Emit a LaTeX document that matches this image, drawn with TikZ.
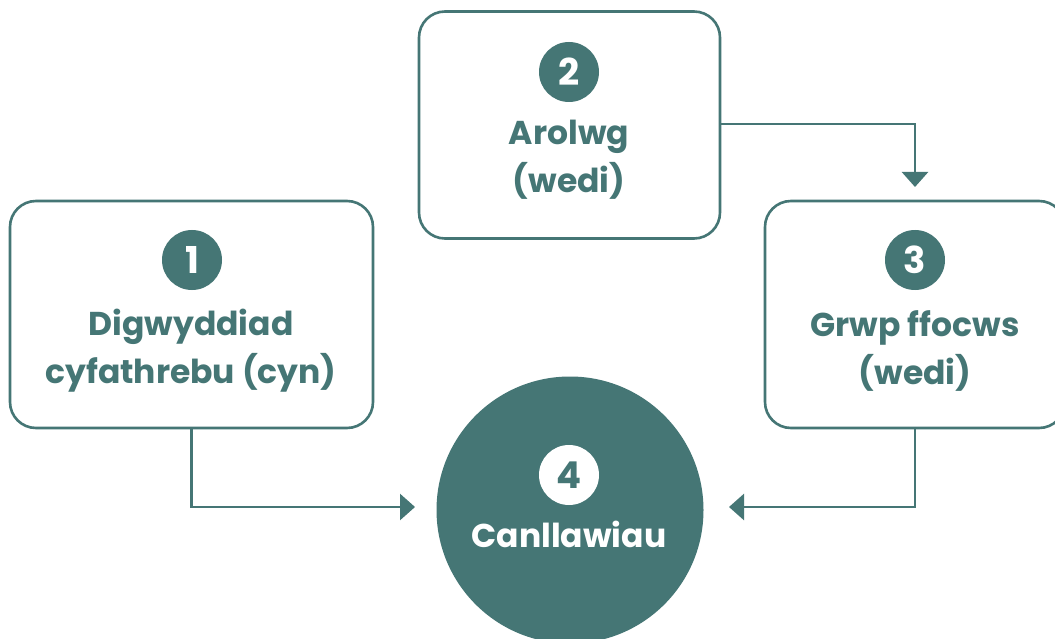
\documentclass[tikz,border=0pt]{standalone}
\usepackage{fontspec}
\setmainfont{Poppins}
\usetikzlibrary{arrows.meta}
\definecolor{tealc}{RGB}{69,118,117}
\begin{document}
\begin{tikzpicture}[x=1pt,y=-1pt,
  box/.style={draw=tealc, line width=2.6pt, rounded corners=26pt, fill=white, minimum width=300pt, minimum height=227pt, inner sep=0pt},
  num/.style={circle, fill=tealc, text=white, minimum size=60pt, inner sep=0pt, font=\fontsize{37}{37}\selectfont\bfseries},
  lbl/.style={text=tealc, font=\fontsize{33}{48}\selectfont\bfseries, align=center, inner sep=0pt},
  conn/.style={draw=tealc, line width=2.6pt, -{Triangle[length=15pt,width=26pt]}}]
\useasboundingbox (0,0) rectangle (1055,639);
\clip (0,0) rectangle (1055,639);
\fill[white] (0,0) rectangle (1055,639);
% boxes
\node[box, minimum width=363pt] (b1) at (191.5,314.5) {};
\node[box, minimum width=301pt] (b2) at (569.5,125) {};
\node[box, minimum width=300pt] (b3) at (915,314.5) {};
% central circle
\node[circle, fill=tealc, minimum size=267pt, inner sep=0pt] (c4) at (570,510) {};
% numbers
\node[num] (n1) at (192,260) {1};
\node[num] (n2) at (569,72) {2};
\node[num] (n3) at (915,260) {3};
\node[num, fill=white, text=tealc] (n4) at (569,475) {4};
% labels
\node[lbl] (l1) at (191,351) {Digwyddiad\\cyfathrebu (cyn)};
\node[lbl] (l2) at (569,160) {Arolwg\\(wedi)};
\node[lbl] (l3) at (915,351) {Grwp ffocws\\(wedi)};
\node[lbl, text=white] (l4) at (569,534) {Canllawiau};
% connectors
\coordinate (e1) at (415,507);
\coordinate (e3) at (729,507);
\coordinate (s2) at (720,124);
\coordinate (e2) at (915,187);
\draw[conn] (b1.south) |- (e1);
\draw[conn] (b3.south) |- (e3);
\draw[conn] (s2) -| (e2);
\end{tikzpicture}
\end{document}
